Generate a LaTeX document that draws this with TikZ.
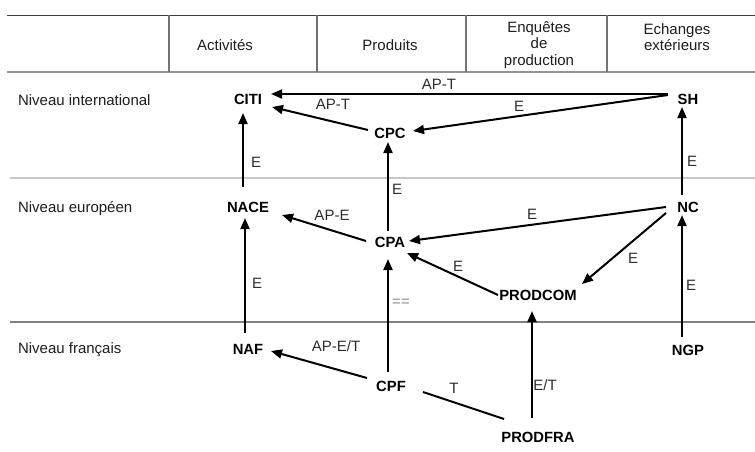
\documentclass[tikz,border=0pt]{standalone}
\usepackage{fontspec}
\setmainfont{Liberation Sans}
\usetikzlibrary{arrows.meta}
\definecolor{txt}{HTML}{1E1E1E}
\definecolor{lbl}{HTML}{2E2E2E}
\begin{document}
\begin{tikzpicture}[x=1pt,y=-1pt,
  every node/.style={inner sep=0pt,outer sep=0pt,text=txt,font=\fontsize{15}{16.5}\selectfont},
  cls/.style={font=\fontsize{14.8}{16.5}\selectfont\bfseries,text=black},
  hdr/.style={align=center},
  lev/.style={anchor=west},
  elab/.style={text=lbl},
  arr/.style={draw=black,line width=2pt,-{Triangle[length=11pt,width=9pt]}},
  plain/.style={draw=black,line width=2pt},
  toprule/.style={draw=black!75,line width=1.5pt},
  hrule/.style={draw=black!42,line width=2pt},
  vrule/.style={draw=black!55,line width=1.5pt},
  lightrule/.style={draw=black!22,line width=2.5pt},
  darkrule/.style={draw=black!50,line width=2.5pt}]
\useasboundingbox (0,0) rectangle (755,452);
\fill[white] (0,0) rectangle (755,452);

% table rules
\draw[toprule] (7,15.5) -- (755,15.5);
\draw[hrule] (7,72.5) -- (755,72.5);
\foreach \xx in {169,317,466,607} \draw[vrule] (\xx,15.5) -- (\xx,72.5);
\draw[lightrule] (10,178) -- (755,178);
\draw[darkrule] (10,322) -- (755,322);

% header
\node[hdr] (hact) at (225,45) {Activités};
\node[hdr] (hprod) at (390,45) {Produits};
\node[hdr] (henq) at (539,45) {Enquêtes\\de\\production};
\node[hdr] (hech) at (677,37) {Echanges\\extérieurs};

% levels
\node[lev] (lint) at (18,100) {Niveau international};
\node[lev] (leur) at (18,209) {Niveau européen};
\node[lev] (lfr) at (18,350) {Niveau français};

% classification nodes
\node[cls] (CITI) at (248,99) {CITI};
\node[cls] (SH) at (688,99) {SH};
\node[cls] (CPC) at (390,133) {CPC};
\node[cls] (NACE) at (248,207) {NACE};
\node[cls] (NC) at (688,207) {NC};
\node[cls] (CPA) at (390,242) {CPA};
\node[cls] (PRODCOM) at (538,295) {PRODCOM};
\node[cls] (NAF) at (248,349) {NAF};
\node[cls] (NGP) at (688,350) {NGP};
\node[cls] (CPF) at (391,386) {CPF};
\node[cls] (PRODFRA) at (538,437) {PRODFRA};

% connectors
\draw[arr] ([shift={(-20,-5)}]SH.center) -- ([shift={(23,-5)}]CITI.center);
\draw[arr] ([shift={(-20,-4)}]SH.center) -- ([shift={(23,-2)}]CPC.center);
\draw[arr] ([shift={(-22,-3)}]CPC.center) -- ([shift={(24,8)}]CITI.center);
\draw[arr] ([shift={(-5,-20)}]NACE.center) -- ([shift={(-5,14)}]CITI.center);
\draw[arr] ([shift={(-2,-11)}]CPA.center) -- ([shift={(-2,9)}]CPC.center);
\draw[arr] ([shift={(-6,-12)}]NC.center) -- ([shift={(-6,8)}]SH.center);
\draw[arr] ([shift={(-22,0)}]NC.center) -- ([shift={(19,-1)}]CPA.center);
\draw[arr] ([shift={(-24,-1)}]CPA.center) -- ([shift={(34,8)}]NACE.center);
\draw[arr] ([shift={(-22,6)}]NC.center) -- ([shift={(44,-11)}]PRODCOM.center);
\draw[arr] ([shift={(-40,0)}]PRODCOM.center) -- ([shift={(17,11)}]CPA.center);
\draw[arr] ([shift={(-3,-16)}]NAF.center) -- ([shift={(-3,11)}]NACE.center);
\draw[arr] ([shift={(-3,-14)}]CPF.center) -- ([shift={(-2,17)}]CPA.center);
\draw[arr] ([shift={(-6,-13)}]NGP.center) -- ([shift={(-6,8)}]NC.center);
\draw[arr] ([shift={(-24,-8)}]CPF.center) -- ([shift={(23,2)}]NAF.center);
\draw[plain] ([shift={(-34,-18)}]PRODFRA.center) -- ([shift={(32,6)}]CPF.center);
\draw[arr] ([shift={(-6,-19)}]PRODFRA.center) -- ([shift={(-6,16)}]PRODCOM.center);

% connector labels
\node[elab] (l1) at (439,84) {AP-T};
\node[elab] (l2) at (333,104) {AP-T};
\node[elab] (l3) at (519,106) {E};
\node[elab] (l4) at (256,162) {E};
\node[elab] (l5) at (692,161) {E};
\node[elab] (l6) at (397,189) {E};
\node[elab] (l7) at (332,215) {AP-E};
\node[elab] (l8) at (532,214) {E};
\node[elab] (l9) at (633,258) {E};
\node[elab] (l10) at (458,266) {E};
\node[elab] (l11) at (257,283) {E};
\node[elab] (l12) at (691,285) {E};
\node[elab,text=black!45] (l13) at (401,303) {==};
\node[elab] (l14) at (336,346) {AP-E/T};
\node[elab] (l15) at (454,388) {T};
\node[elab] (l16) at (545,385) {E/T};
\end{tikzpicture}
\end{document}
